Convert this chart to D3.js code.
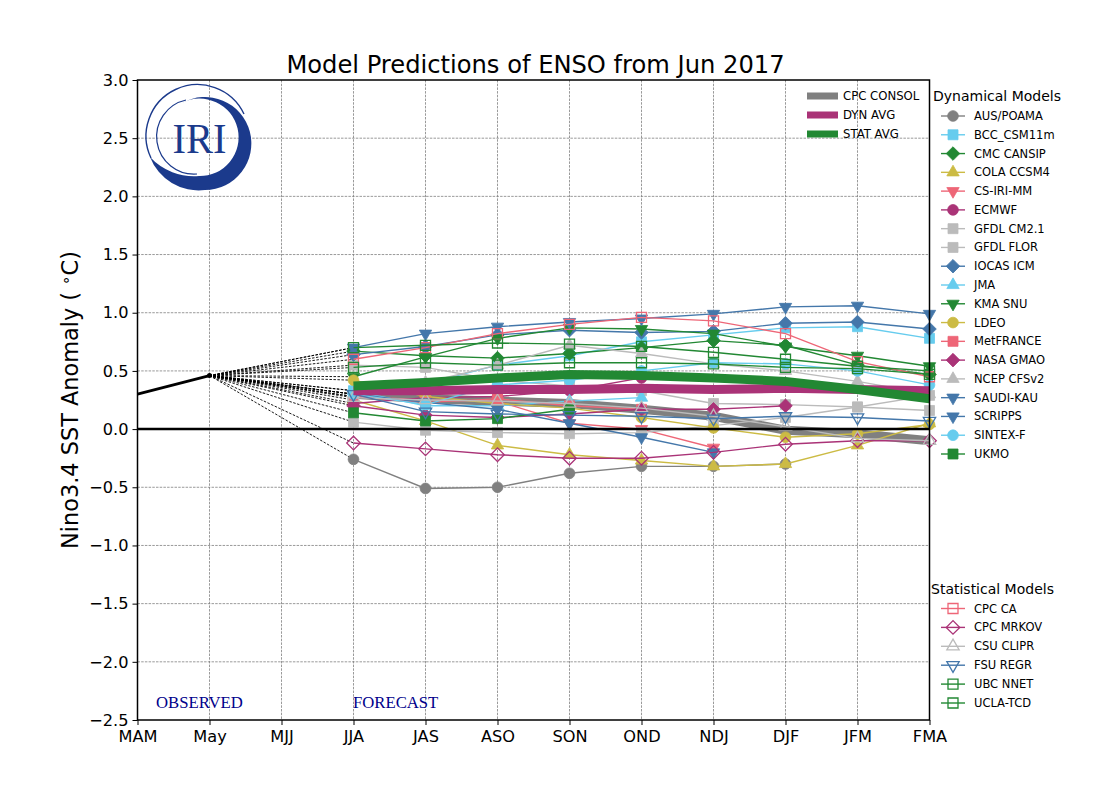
<!DOCTYPE html>
<html>
<head>
<meta charset="utf-8">
<script src="https://cdnjs.cloudflare.com/ajax/libs/d3/7.8.5/d3.min.js"></script>
<style>
body { margin: 0; background: #fff; }
text { font-family: "DejaVu Sans", sans-serif; fill: #000; }
</style>
</head>
<body>
<div id="chart"></div>
<script>
var seasons = ["MAM","May","MJJ","JJA","JAS","ASO","SON","OND","NDJ","DJF","JFM","FMA"];
var forecastSeasons = ["JJA","JAS","ASO","SON","OND","NDJ","DJF","JFM","FMA"];
var yTicks = [3.0,2.5,2.0,1.5,1.0,0.5,0.0,-0.5,-1.0,-1.5,-2.0,-2.5];

var observedSeasons = ["MAM","May"];
var observedValues = [0.30,0.46];

// dynamical models, values from JJA onward
var ausPoama = [-0.26,-0.51,-0.50,-0.38,-0.32,-0.32,-0.30];
var bccCsm = [0.33,0.39,0.55,0.63,0.75,0.81,0.87,0.88,0.78];
var cmcCansip = [0.67,0.63,0.61,0.65,0.70,0.76,0.72,0.55,0.47];
var colaCcsm4 = [0.25,0.07,-0.14,-0.22,-0.27,-0.32,-0.30,-0.14,0.05];
var csIriMm = [0.28,0.25,0.24,0.05,0.00,-0.16];
var ecmwf = [0.22,0.27,0.28,0.33,0.44];
var gfdlCm21 = [0.06,-0.01,-0.03,-0.04,-0.03,0.03,0.10,0.19,0.29];
var gfdlFlor = [0.55,0.53,0.42,0.37,0.33,0.22,0.21,0.19,0.16];
var iocasIcm = [0.64,0.71,0.81,0.85,0.83,0.84,0.91,0.92,0.86];
var jma = [0.33,0.20,0.20,0.24,0.27];
var kmaSnu = [0.45,0.62,0.78,0.87,0.86,0.82,0.71,0.63,0.54];
var ldeo = [0.42,0.28,0.22,0.18,0.10,0.01,-0.07,-0.04,0.04];
var metFrance = [0.28,0.23,0.26,0.20,0.17];
var nasaGmao = [0.20,0.12,0.10,0.13,0.17,0.17,0.20];
var ncepCfs = [0.30,0.40,0.55,0.72,0.65,0.56,0.50,0.41,0.30];
var saudiKau = [0.30,0.23,0.17,0.05,-0.07,-0.20];
var scripps = [0.70,0.82,0.88,0.92,0.95,0.99,1.05,1.06,0.99];
var sintexF = [0.30,0.21,0.38,0.42,0.50,0.57,0.56,0.50,0.38];
var ukmo = [0.14,0.07,0.09,0.17];

// statistical models
var cpcCa = [0.60,0.70,0.82,0.90,0.96,0.93,0.82,0.58,0.45];
var cpcMrkov = [-0.12,-0.17,-0.22,-0.25,-0.25,-0.20,-0.13,-0.10,-0.10];
var csuClipr = [0.27,0.25,0.24,0.22,0.18,0.11,0.02,-0.08,-0.10];
var fsuRegr = [0.30,0.15,0.13,0.12,0.11,0.09,0.11,0.10,0.07];
var ubcNnet = [0.53,0.57,0.55,0.57,0.57,0.56,0.53,0.52,0.47];
var uclaTcd = [0.70,0.72,0.74,0.73,0.71,0.66,0.60,0.54,0.50];

// averages
var cpcConsol = [0.30,0.26,0.24,0.22,0.17,0.11,-0.01,-0.04,-0.10];
var dynAvg = [0.33,0.33,0.34,0.34,0.35,0.34,0.35,0.34,0.33];
var statAvg = [0.37,0.40,0.44,0.47,0.46,0.44,0.41,0.34,0.26];

var GREY = "#808080", LBLUE = "#66ccee", GREEN = "#228833", YELLOW = "#ccbb44",
	RED = "#ee6677", PURPLE = "#aa3377", LGREY = "#bbbbbb", BLUE = "#4477aa";

var dynamical = [
	{name:"AUS/POAMA", values:ausPoama, color:GREY, marker:"circle"},
	{name:"BCC_CSM11m", values:bccCsm, color:LBLUE, marker:"square"},
	{name:"CMC CANSIP", values:cmcCansip, color:GREEN, marker:"diamond"},
	{name:"COLA CCSM4", values:colaCcsm4, color:YELLOW, marker:"up"},
	{name:"CS-IRI-MM", values:csIriMm, color:RED, marker:"down"},
	{name:"ECMWF", values:ecmwf, color:PURPLE, marker:"circle"},
	{name:"GFDL CM2.1", values:gfdlCm21, color:LGREY, marker:"square"},
	{name:"GFDL FLOR", values:gfdlFlor, color:LGREY, marker:"square"},
	{name:"IOCAS ICM", values:iocasIcm, color:BLUE, marker:"diamond"},
	{name:"JMA", values:jma, color:LBLUE, marker:"up"},
	{name:"KMA SNU", values:kmaSnu, color:GREEN, marker:"down"},
	{name:"LDEO", values:ldeo, color:YELLOW, marker:"circle"},
	{name:"MetFRANCE", values:metFrance, color:RED, marker:"square"},
	{name:"NASA GMAO", values:nasaGmao, color:PURPLE, marker:"diamond"},
	{name:"NCEP CFSv2", values:ncepCfs, color:LGREY, marker:"up"},
	{name:"SAUDI-KAU", values:saudiKau, color:BLUE, marker:"down"},
	{name:"SCRIPPS", values:scripps, color:BLUE, marker:"down"},
	{name:"SINTEX-F", values:sintexF, color:LBLUE, marker:"circle"},
	{name:"UKMO", values:ukmo, color:GREEN, marker:"square"}
];
var statistical = [
	{name:"CPC CA", values:cpcCa, color:RED, marker:"square", open:true},
	{name:"CPC MRKOV", values:cpcMrkov, color:PURPLE, marker:"diamond", open:true},
	{name:"CSU CLIPR", values:csuClipr, color:LGREY, marker:"up", open:true},
	{name:"FSU REGR", values:fsuRegr, color:BLUE, marker:"down", open:true},
	{name:"UBC NNET", values:ubcNnet, color:GREEN, marker:"square", open:true},
	{name:"UCLA-TCD", values:uclaTcd, color:GREEN, marker:"square", open:true}
];
var averages = [
	{name:"CPC CONSOL", values:cpcConsol, color:GREY},
	{name:"DYN AVG", values:dynAvg, color:PURPLE},
	{name:"STAT AVG", values:statAvg, color:GREEN}
];

var width = 1100, height = 800;
var plot = {left: 137.5, right: 929.5, top: 80, bottom: 720};

var svg = d3.select("#chart").append("svg")
	.attr("width", width)
	.attr("height", height);

var x = d3.scalePoint().domain(seasons).range([plot.left, plot.right]);
var y = d3.scaleLinear().domain([-2.5,3.0]).range([plot.bottom, plot.top]);

// grid
svg.append("g").selectAll("line").data(seasons.slice(1,-1)).enter().append("line")
	.attr("x1", d => x(d)).attr("x2", d => x(d))
	.attr("y1", plot.top).attr("y2", plot.bottom)
	.attr("stroke", "#808080").attr("stroke-width", 0.8).attr("stroke-dasharray", "2.5,1.2");
svg.append("g").selectAll("line").data(yTicks.slice(1,-1)).enter().append("line")
	.attr("x1", plot.left).attr("x2", plot.right)
	.attr("y1", d => y(d)).attr("y2", d => y(d))
	.attr("stroke", "#808080").attr("stroke-width", 0.8).attr("stroke-dasharray", "2.5,1.2");

drawLogo(svg.append("g"));

function markerPath(m) {
	if (m == "circle") return d3.symbol().type(d3.symbolCircle).size(90)();
	if (m == "square") return d3.symbol().type(d3.symbolSquare).size(100)();
	if (m == "diamond") return d3.symbol().type(d3.symbolSquare).size(92)();
	return d3.symbol().type(d3.symbolTriangle).size(66)();
}
function markerRotate(m) {
	if (m == "diamond") return " rotate(45)";
	if (m == "down") return " rotate(180)";
	return "";
}
function drawMarker(g, s, cx, cy) {
	g.append("path")
		.attr("d", markerPath(s.marker))
		.attr("transform", "translate(" + cx + "," + cy + ")" + markerRotate(s.marker))
		.attr("fill", s.open ? "none" : s.color)
		.attr("stroke", s.color)
		.attr("stroke-width", s.open ? 1.3 : 0.8);
}

var line = d3.line()
	.x((d,i) => x(forecastSeasons[i]))
	.y(d => y(d));

function drawAverage(s) {
	svg.append("path")
		.attr("d", line(s.values))
		.attr("fill", "none")
		.attr("stroke", s.color)
		.attr("stroke-width", 9);
}

// dashed lines from the last observation to each first forecast
var lastObs = observedValues[observedValues.length-1];
var allModels = dynamical.concat(statistical);
svg.append("g").selectAll("line").data(allModels).enter().append("line")
	.attr("x1", x("May")).attr("y1", y(lastObs))
	.attr("x2", x("JJA")).attr("y2", d => y(d.values[0]))
	.attr("stroke", "#000").attr("stroke-width", 0.9).attr("stroke-dasharray", "2.5,1.5");

// the consolidation sits under the models, the two averages on top
drawAverage(averages[0]);

allModels.forEach(function(s) {
	var g = svg.append("g").attr("class", "model");
	g.append("path")
		.attr("d", line(s.values))
		.attr("fill", "none")
		.attr("stroke", s.color)
		.attr("stroke-width", 1.4);
	s.values.forEach(function(v,i) {
		drawMarker(g, s, x(forecastSeasons[i]), y(v));
	});
});

drawAverage(averages[1]);
drawAverage(averages[2]);

// observed
svg.append("path")
	.attr("d", d3.line().x((d,i) => x(observedSeasons[i])).y(d => y(d))(observedValues))
	.attr("fill", "none").attr("stroke", "#000").attr("stroke-width", 2.8);
svg.append("circle")
	.attr("cx", x("May")).attr("cy", y(lastObs)).attr("r", 2.5).attr("fill", "#000");

// zero line
svg.append("line")
	.attr("x1", plot.left).attr("x2", plot.right)
	.attr("y1", y(0)).attr("y2", y(0))
	.attr("stroke", "#000").attr("stroke-width", 2.5);

// axes
var xAxis = d3.axisBottom(x).tickSize(5).tickPadding(5);
var yAxis = d3.axisLeft(y).tickValues(yTicks).tickSize(5).tickPadding(4)
	.tickFormat(d => d3.format(".1f")(d).replace("-", "\u2212"));

var gx = svg.append("g").attr("transform", "translate(0," + plot.bottom + ")").call(xAxis);
var gy = svg.append("g").attr("transform", "translate(" + plot.left + ",0)").call(yAxis);
[gx, gy].forEach(function(g) {
	g.selectAll("text").style("font-size", "16.2px").style("font-family", "DejaVu Sans");
	g.selectAll("line").attr("stroke", "#000").attr("stroke-width", 1);
	g.select(".domain").remove();
});

svg.append("rect")
	.attr("x", plot.left).attr("y", plot.top)
	.attr("width", plot.right - plot.left).attr("height", plot.bottom - plot.top)
	.attr("fill", "none").attr("stroke", "#000").attr("stroke-width", 1.5);

// titles
svg.append("text").attr("x", 535.5).attr("y", 73)
	.attr("text-anchor", "middle").style("font-size", "24.2px")
	.text("Model Predictions of ENSO from Jun 2017");

var yLabel = svg.append("text")
	.attr("transform", "translate(78,400) rotate(-90)")
	.attr("text-anchor", "middle").style("font-size", "22.4px");
yLabel.append("tspan").text("Nino3.4 SST Anomaly ( ");
yLabel.append("tspan").attr("dy", -7).style("font-size", "15px").text("\u2218");
yLabel.append("tspan").attr("dy", 7).text("C)");

svg.append("text").attr("x", 156).attr("y", 708)
	.style("font-family", "Liberation Serif").style("font-size", "16.7px").style("fill", "#00008b")
	.text("OBSERVED");
svg.append("text").attr("x", 353).attr("y", 708)
	.style("font-family", "Liberation Serif").style("font-size", "16.7px").style("fill", "#00008b")
	.text("FORECAST");

// legends
var avgRowY = d3.scalePoint().domain(averages.map(d => d.name)).range([96,134]);
averages.forEach(function(s) {
	var cy = avgRowY(s.name);
	svg.append("rect").attr("x", 807).attr("y", cy-3.5).attr("width", 31).attr("height", 7).attr("fill", s.color);
	svg.append("text").attr("x", 843).attr("y", cy+4).style("font-size", "11.7px").text(s.name);
});

function drawModelLegend(models, titleText, titleX, titleY, y0, y1) {
	svg.append("text").attr("x", titleX).attr("y", titleY).style("font-size", "14px").text(titleText);
	var rowY = d3.scalePoint().domain(models.map(d => d.name)).range([y0,y1]);
	models.forEach(function(s) {
		var cy = rowY(s.name);
		var g = svg.append("g");
		g.append("line").attr("x1", 941).attr("x2", 965).attr("y1", cy).attr("y2", cy)
			.attr("stroke", s.color).attr("stroke-width", 1.4);
		drawMarker(g, s, 953, cy);
		g.append("text").attr("x", 974).attr("y", cy+4).style("font-size", "11.5px").text(s.name);
	});
}
drawModelLegend(dynamical, "Dynamical Models", 933, 101, 116, 454);
drawModelLegend(statistical, "Statistical Models", 931, 594, 608.5, 703);

function drawLogo(g) {
	var blue = "#1b3a8c";
	// thin outer ring over the top, it runs into the crescent tail
	g.append("path")
		.attr("d", "M 151 158 A 51 51 0 0 1 244 114")
		.attr("fill", "none").attr("stroke", blue).attr("stroke-width", 1.4);
	// crescent
	g.append("path")
		.attr("d", "M 150 157 A 52 52 0 0 0 205 190 A 46.5 46.5 0 1 0 182 103 A 38.7 38.7 0 1 1 199 176 A 60 60 0 0 1 150 157 Z")
		.attr("fill", blue);
	// thin inner ring
	g.append("path")
		.attr("d", "M 186 100 A 37.5 37.5 0 0 0 197 174")
		.attr("fill", "none").attr("stroke", blue).attr("stroke-width", 1.2);
	g.append("text").attr("x", 172.5).attr("y", 153)
		.attr("textLength", 54).attr("lengthAdjust", "spacingAndGlyphs")
		.style("font-family", "Liberation Serif").style("font-size", "43px").style("fill", blue)
		.text("IRI");
}
</script>
</body>
</html>
